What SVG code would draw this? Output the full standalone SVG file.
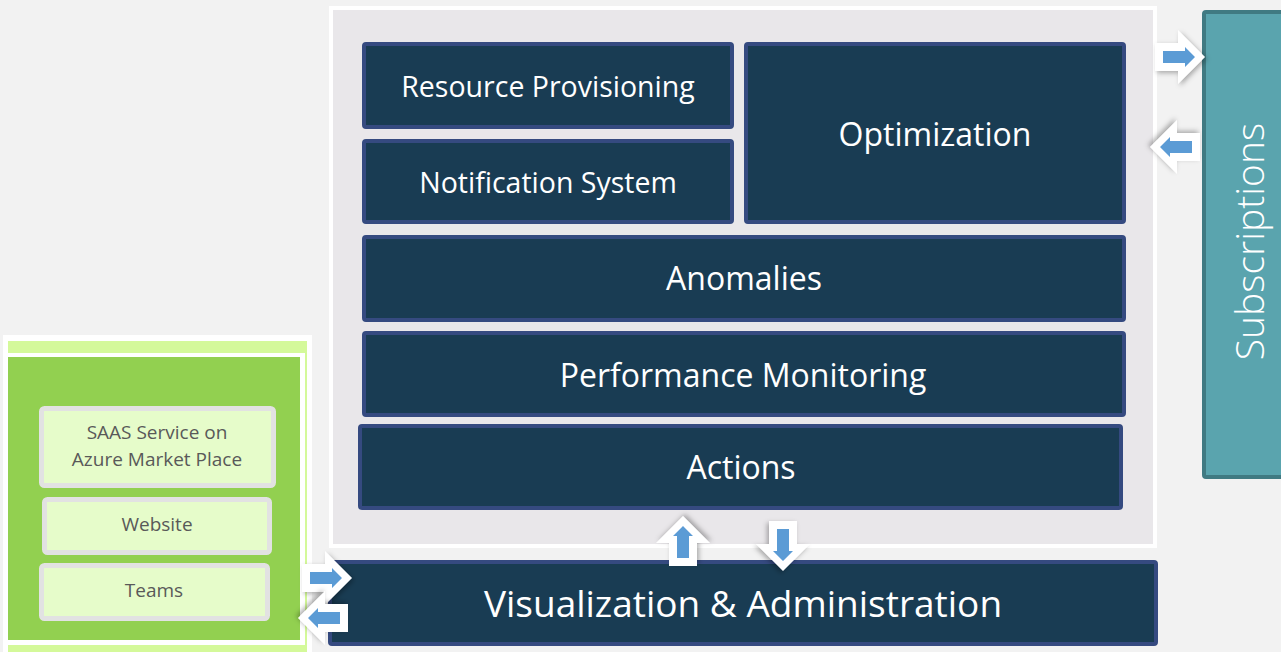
<svg xmlns="http://www.w3.org/2000/svg" xmlns:xlink="http://www.w3.org/1999/xlink" width="1281" height="652" viewBox="0 0 1281 652">
<style>
.dark{fill:#193c53;stroke:#354a80;stroke-width:4}
.dt{fill:#ffffff;font-family:"Open Sans","Liberation Sans",sans-serif;text-anchor:middle}
.lg{fill:#e6fcca;stroke:#e2e2e2;stroke-width:5}
.gt{fill:#595959;font-family:"Open Sans","Liberation Sans",sans-serif;font-size:19px;text-anchor:middle}
</style>
<defs>
<filter id="sh" x="-30%" y="-30%" width="160%" height="160%">
<feDropShadow dx="2" dy="2" stdDeviation="2.5" flood-color="#000" flood-opacity="0.3"/>
</filter>
<g id="arrowR">
<polygon points="0,13 23,13 23,0 50,27 23,54 23,41 0,41" fill="#ffffff" filter="url(#sh)"/>
<polygon points="8,21 30,21 30,17 40,27 30,37 30,33 8,33" fill="#5b9bd5"/>
</g>
</defs>
<rect x="0" y="0" width="1281" height="652" fill="#f2f2f2"/>

<g id="platform">
<rect x="329" y="6" width="828" height="542" fill="#ffffff"/>
<rect x="333" y="10" width="820" height="534" fill="#e9e7ea"/>
</g>

<g id="resource-provisioning">
<rect class="dark" x="364" y="44" width="368" height="83" rx="2"/>
<text class="dt" x="548" y="97" font-size="28.5">Resource Provisioning</text>
</g>
<g id="notification-system">
<rect class="dark" x="364" y="141" width="368" height="81" rx="2"/>
<text class="dt" x="548" y="193" font-size="28.5">Notification System</text>
</g>
<g id="optimization">
<rect class="dark" x="746" y="44" width="378" height="178" rx="2"/>
<text class="dt" x="935" y="146" font-size="32">Optimization</text>
</g>
<g id="anomalies">
<rect class="dark" x="364" y="237" width="760" height="83" rx="2"/>
<text class="dt" x="744" y="290" font-size="32">Anomalies</text>
</g>
<g id="performance-monitoring">
<rect class="dark" x="364" y="333" width="760" height="82" rx="2"/>
<text class="dt" x="743" y="387" font-size="32">Performance Monitoring</text>
</g>
<g id="actions">
<rect class="dark" x="360" y="426" width="761" height="82" rx="2"/>
<text class="dt" x="741" y="479" font-size="32">Actions</text>
</g>
<g id="visualization-administration">
<rect class="dark" x="330" y="562" width="826" height="82" rx="2"/>
<text class="dt" x="743" y="617" font-size="37">Visualization &amp; Administration</text>
</g>

<g id="subscriptions">
<rect x="1204" y="12" width="90" height="465" fill="#5aa4ae" stroke="#407a82" stroke-width="4" rx="2"/>
<text class="dt" transform="translate(1264,241.5) rotate(-90)" x="0" y="0" font-size="39" font-weight="300">Subscriptions</text>
</g>

<g id="channels">
<rect x="3" y="335" width="309" height="320" fill="#ffffff"/>
<rect x="8" y="341" width="299" height="315" fill="#d4f99a"/>
<rect x="6" y="353" width="299" height="292" fill="#ffffff"/>
<rect x="8" y="357" width="292" height="283" fill="#92d050"/>
</g>
<g id="saas-service">
<rect class="lg" x="41.5" y="408.5" width="232" height="77" rx="3"/>
<text class="gt" x="157" y="439">SAAS Service on</text>
<text class="gt" x="157" y="466">Azure Market Place</text>
</g>
<g id="website">
<rect class="lg" x="44.5" y="499.5" width="225" height="53" rx="3"/>
<text class="gt" x="157" y="531">Website</text>
</g>
<g id="teams">
<rect class="lg" x="41.5" y="565.5" width="226" height="53" rx="3"/>
<text class="gt" x="154" y="597">Teams</text>
</g>

<g id="connectors">
<use xlink:href="#arrowR" transform="translate(1155,30)"/>
<use xlink:href="#arrowR" transform="translate(1200,174) rotate(180)"/>
<use xlink:href="#arrowR" transform="translate(302,551)"/>
<use xlink:href="#arrowR" transform="translate(348,645) rotate(180)"/>
<use xlink:href="#arrowR" transform="translate(656,566) rotate(-90)"/>
<use xlink:href="#arrowR" transform="translate(810,521) rotate(90)"/>
</g>
</svg>
